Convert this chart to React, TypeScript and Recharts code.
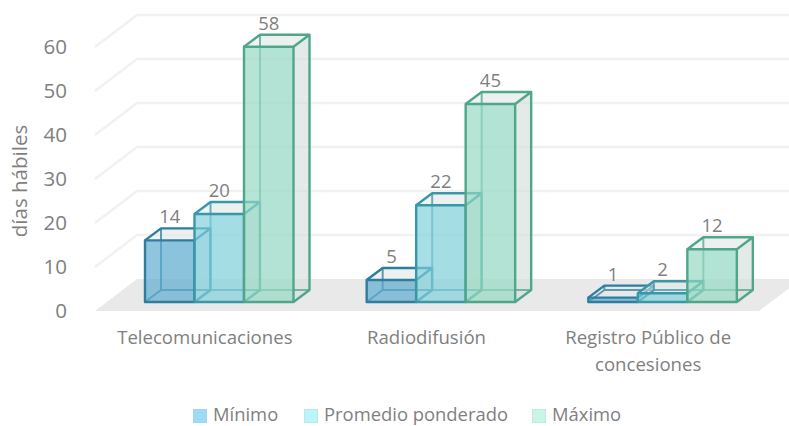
import { Bar, BarChart, CartesianGrid, LabelList, Legend, Text, XAxis, YAxis } from "recharts";

const categories = ["Telecomunicaciones", "Radiodifusión", "Registro Público de concesiones"];
const minimo = [14, 5, 1];
const promedio = [20, 22, 2];
const maximo = [58, 45, 12];
const yTicks = [0, 10, 20, 30, 40, 50, 60];

const data = categories.map((name, i) => ({
  name,
  minimo: minimo[i],
  promedio: promedio[i],
  maximo: maximo[i],
}));

const FONT = "'Open Sans', sans-serif";
const GRAY = "#7f7f7f";
const DEPTH_X = 16;
const DEPTH_Y = -12;

const legendItems = [
  { label: "Mínimo", fill: "#9ddcf8", stroke: "#a3d3ea" },
  { label: "Promedio ponderado", fill: "#b9f6f6", stroke: "#bde6e8" },
  { label: "Máximo", fill: "#c8f5e6", stroke: "#c4e8dc" },
];

function box(fill: string, stroke: string) {
  return function BoxShape({ x, y, width, height }: any) {
    const x2 = x + width;
    const y2 = y + height;
    const dx = DEPTH_X;
    const dy = DEPTH_Y;
    return (
      <g strokeLinejoin="round">
        {/* far faces */}
        <polygon
          points={`${x + dx},${y + dy} ${x2 + dx},${y + dy} ${x2 + dx},${y2 + dy} ${x + dx},${y2 + dy}`}
          fill="#dfe8e6"
          fillOpacity={0.3}
        />
        <polygon
          points={`${x2},${y} ${x2 + dx},${y + dy} ${x2 + dx},${y2 + dy} ${x2},${y2}`}
          fill="#d5dfdc"
          fillOpacity={0.55}
        />
        <polygon
          points={`${x},${y} ${x + dx},${y + dy} ${x2 + dx},${y + dy} ${x2},${y}`}
          fill="#e3eaea"
          fillOpacity={0.55}
        />
        {/* hidden edges */}
        <path
          d={`M${x},${y2} L${x + dx},${y2 + dy} L${x2 + dx},${y2 + dy} M${x + dx},${y + dy} L${x + dx},${y2 + dy}`}
          fill="none"
          stroke={stroke}
          strokeOpacity={0.75}
          strokeWidth={2}
        />
        <rect x={x} y={y} width={width} height={height} fill={fill} fillOpacity={0.68} />
        {/* outline */}
        <path
          d={`M${x},${y} L${x + dx},${y + dy} L${x2 + dx},${y + dy} L${x2},${y} M${x2 + dx},${y + dy} L${x2 + dx},${y2 + dy} L${x2},${y2}`}
          fill="none"
          stroke={stroke}
          strokeWidth={2.4}
        />
        <rect x={x} y={y} width={width} height={height} fill="none" stroke={stroke} strokeWidth={2.4} />
      </g>
    );
  };
}

function gridLine({ x1, x2, y1, index }: any) {
  const front = y1 + 9;
  const back = y1 - 23;
  const left = x1 - 13;
  return (
    <g key={index}>
      {index === 0 && (
        <polygon
          points={`${left},${front} ${left + 42},${back} ${x2 + 28},${back} ${x2 - 14},${front}`}
          fill="#e9e9e9"
        />
      )}
      {index !== 0 && (
        <path
          d={`M${left},${front} L${left + 42},${back} L${x2 + 28},${back}`}
          fill="none"
          stroke="#f1f1f1"
          strokeWidth={2.5}
        />
      )}
    </g>
  );
}

function YTick({ y, payload }: any) {
  return (
    <text x={67} y={y + 16} textAnchor="end" fontFamily={FONT} fontSize={20.5} fill={GRAY}>
      {payload.value}
    </text>
  );
}

function XTick({ x, y, payload }: any) {
  return (
    <Text
      x={x - 14}
      y={y + 34}
      width={170}
      textAnchor="middle"
      verticalAnchor="middle"
      lineHeight={27}
      fontFamily={FONT}
      fontSize={18.6}
      fill={GRAY}
    >
      {payload.value}
    </Text>
  );
}

function ValueLabel({ x, y, width, value }: any) {
  return (
    <text
      x={x + width / 2}
      y={y - 17}
      textAnchor="middle"
      fontFamily={FONT}
      fontSize={18.5}
      fill={GRAY}
    >
      {value}
    </text>
  );
}

function ChartLegend() {
  return (
    <div style={{ position: "relative", width: 789, height: 34 }}>
      {legendItems.map((item, i) => (
        <span
          key={item.label}
          style={{
            position: "absolute",
            left: [193, 304, 532][i],
            top: 14,
            display: "flex",
            alignItems: "center",
            fontFamily: FONT,
            fontSize: 18.4,
            lineHeight: "16px",
            color: GRAY,
            whiteSpace: "nowrap",
          }}
        >
          <span
            style={{
              width: 12,
              height: 12,
              marginRight: 6,
              background: item.fill,
              border: `1px solid ${item.stroke}`,
              transform: "translateY(2px)",
            }}
          />
          {item.label}
        </span>
      ))}
    </div>
  );
}

export default function App() {
  return (
    <div style={{ position: "absolute", left: 0, top: 0, width: 789, height: 426, overflow: "hidden", background: "#fff" }}>
      <BarChart
        width={789}
        height={426}
        data={data}
        margin={{ top: 38, right: 16, bottom: 0, left: 0 }}
        barCategoryGap={72}
        barGap={0}
      >
        <CartesianGrid vertical={false} horizontal={gridLine} stroke="none" />
        <XAxis dataKey="name" height={90} axisLine={false} tickLine={false} interval={0} tick={<XTick />} />
        <YAxis
          width={108}
          domain={[0, 60]}
          ticks={yTicks}
          axisLine={false}
          tickLine={false}
          tick={<YTick />}
          label={{
            value: "días hábiles",
            angle: -90,
            position: "insideLeft",
            dx: 15,
            dy: 11,
            style: { fontFamily: FONT, fontSize: 20.5, fill: GRAY, textAnchor: "middle" },
          }}
        />
        <Legend content={<ChartLegend />} verticalAlign="bottom" height={34} wrapperStyle={{ left: 0, bottom: 0, width: 789 }} />
        <Bar dataKey="minimo" name="Mínimo" barSize={49.5} isAnimationActive={false} shape={box("#5aa9cf", "#2f7d9f")}>
          <LabelList dataKey="minimo" content={<ValueLabel />} />
        </Bar>
        <Bar dataKey="promedio" name="Promedio ponderado" barSize={49.5} isAnimationActive={false} shape={box("#7fd0dc", "#3a97a8")}>
          <LabelList dataKey="promedio" content={<ValueLabel />} />
        </Bar>
        <Bar dataKey="maximo" name="Máximo" barSize={49.5} isAnimationActive={false} shape={box("#93d8c2", "#4fa68b")}>
          <LabelList dataKey="maximo" content={<ValueLabel />} />
        </Bar>
      </BarChart>
    </div>
  );
}
